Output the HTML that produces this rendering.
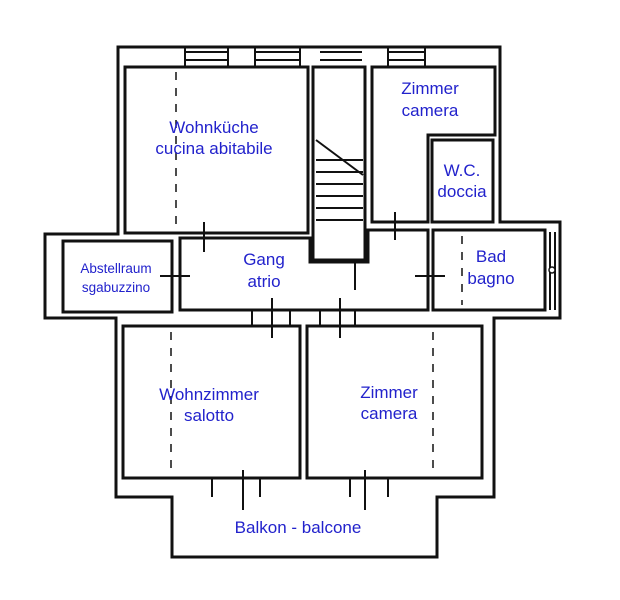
<!DOCTYPE html>
<html><head><meta charset="utf-8"><style>
html,body{margin:0;padding:0;background:#fff;}
svg{display:block}
text{font-family:"Liberation Sans",sans-serif;fill:#2222cc;text-anchor:middle;}
</style></head><body>
<svg width="620" height="600" viewBox="0 0 620 600" xmlns="http://www.w3.org/2000/svg">
<g fill="none" stroke="#111" stroke-width="3">
<polygon points="118,47 500,47 500,222 560,222 560,318 494,318 494,497 437,497 437,557 172,557 172,497 116,497 116,318 45,318 45,234 118,234"/>
<rect x="125" y="67" width="183" height="166"/>
<rect x="313" y="67" width="52" height="193"/>
<path d="M372,67 H495 V135 H428 V222 H372 Z"/>
<rect x="432" y="140" width="61" height="82"/>
<path d="M180,238 H310 V262 H368 V230 H428 V310 H180 Z"/>
<rect x="433" y="230" width="112" height="80"/>
<rect x="63" y="241" width="109" height="71"/>
<rect x="123" y="326" width="177" height="152"/>
<rect x="307" y="326" width="175" height="152"/>
</g>
<g stroke="#111" stroke-width="2" fill="none">
<!-- windows top -->
<path d="M185,52 H228 M185,60 H228 M228,47 V67 M185,47 V67"/>
<path d="M255,52 H300 M255,60 H300 M255,47 V67 M300,47 V67"/>
<path d="M320,52 H362 M320,60 H362"/>
<path d="M388,52 H425 M388,60 H425 M388,47 V67 M425,47 V67"/>
<!-- stairs -->
<path d="M316,140 L363,175 M316,160 H363 M316,172 H363 M316,184 H363 M316,196 H363 M316,208 H363 M316,220 H363"/>
<path d="M550,232 V310 M555,232 V310"/>
<!-- bottom windows -->
<path d="M212,478 V497 M260,478 V497 M350,478 V497 M388,478 V497"/>
<path d="M252,310 V326 M290,310 V326 M320,310 V326 M355,310 V326"/>
<!-- door ticks -->
<path d="M204,222 V252 M395,212 V240 M355,260 V290 M160,276 H190 M415,276 H445 M272,298 V338 M340,298 V338 M243,470 V510 M365,470 V510"/>
</g>
<g stroke="#111" stroke-width="1.5" stroke-dasharray="8,8">
<path d="M176,72 V230 M172,246 V310 M171,332 V475 M433,332 V475 M462,236 V305"/>
</g>
<circle cx="552" cy="270" r="3" fill="#fff" stroke="#111" stroke-width="1.5"/>
<g font-size="17">
<text x="214" y="133">Wohnküche</text>
<text x="214" y="154">cucina abitabile</text>
<text x="430" y="94">Zimmer</text>
<text x="430" y="116">camera</text>
<text x="462" y="176">W.C.</text>
<text x="462" y="197">doccia</text>
<text x="264" y="265">Gang</text>
<text x="264" y="287">atrio</text>
<text x="491" y="262">Bad</text>
<text x="491" y="284">bagno</text>
<text x="209" y="400">Wohnzimmer</text>
<text x="209" y="421">salotto</text>
<text x="389" y="398">Zimmer</text>
<text x="389" y="419">camera</text>
<text x="298" y="533">Balkon - balcone</text>
</g>
<g font-size="13.5">
<text x="116" y="273">Abstellraum</text>
<text x="116" y="292">sgabuzzino</text>
</g>
</svg>
</body></html>
